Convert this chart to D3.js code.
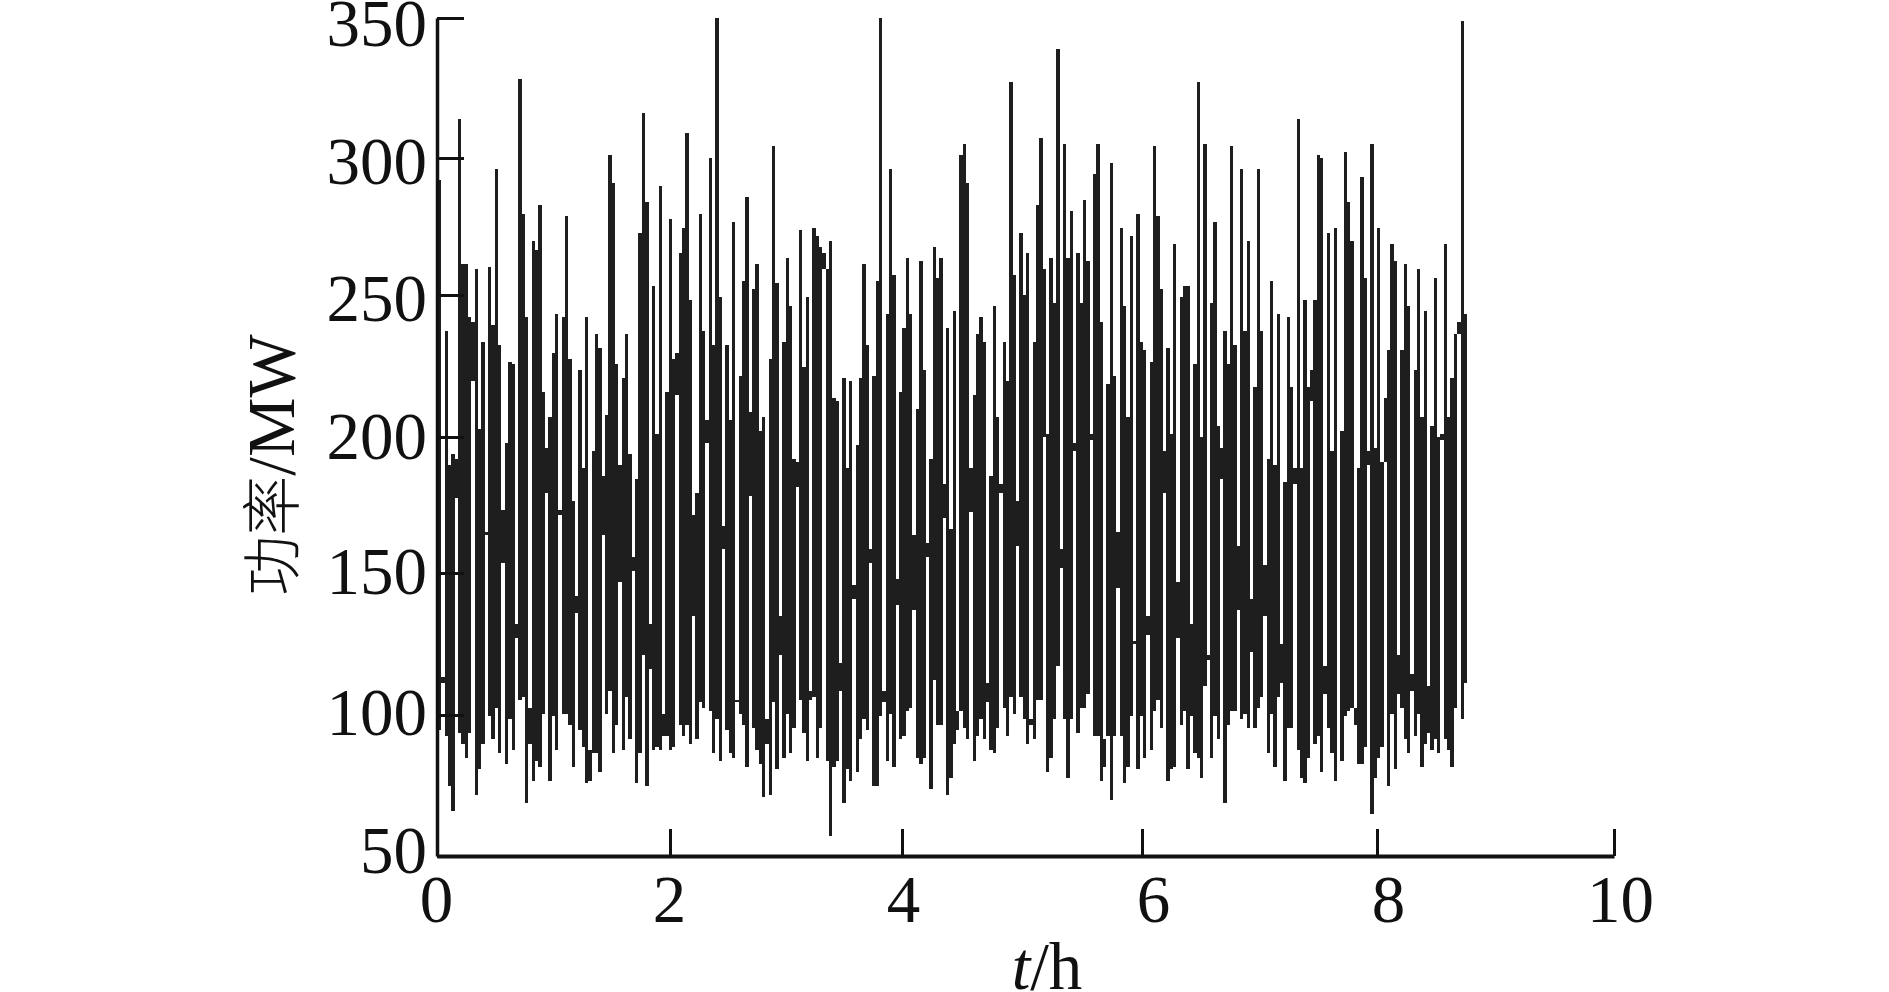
<!DOCTYPE html>
<html>
<head>
<meta charset="utf-8">
<script src="https://cdn.jsdelivr.net/npm/d3@7/dist/d3.min.js"></script>
<style>
html,body{margin:0;padding:0;background:#fff;overflow:hidden}
svg{display:block}
</style>
</head>
<body>
<svg id="chart" width="1889" height="992"></svg>
<script>
const xTicks = [0, 2, 4, 6, 8, 10];
const yTicks = [50, 100, 150, 200, 250, 300, 350];
const xTitleItalic = "t";
const xTitleRest = "/h";
const yTitleCjk = "功率";
const yTitleLatin = "/MW";

// Sampling of the power trace (hours)
const sampleStart = 0.0227;
const sampleStep = 0.02839;

// Upper end of each trace sample (MW)
const powerHigh = [
292,114,238,190,194,192,314,262,262,243,
241,260,203,234,166,261,240,296,233,174,
198,227,226,133,328,280,243,103,270,267,
283,216,196,207,230,244,174,243,279,228,
177,143,224,189,243,88,195,237,232,186,
208,301,291,226,190,221,237,194,157,185,
273,316,284,133,254,201,290,101,216,278,
228,230,266,275,309,249,172,180,280,238,
206,300,233,350,250,168,233,206,277,106,
222,256,286,209,253,262,202,207,99,228,
304,255,136,234,264,247,192,191,274,225,
250,109,275,272,268,266,260,270,214,213,
119,221,189,220,147,197,221,262,233,160,
222,256,350,109,244,296,258,149,216,239,
264,244,165,210,263,224,162,192,268,257,
264,183,239,167,245,102,301,305,291,189,
215,237,243,234,112,186,247,207,183,234,
220,327,258,177,273,251,266,99,234,283,
307,260,201,264,248,339,160,305,264,281,
198,266,248,285,263,201,294,305,241,92,
219,298,222,166,275,247,207,272,127,280,
234,231,136,227,304,279,253,195,232,201,
269,148,250,254,254,133,226,327,200,305,
122,248,277,204,196,238,226,304,233,161,
296,238,270,142,218,296,238,154,192,256,
190,244,126,184,243,218,189,314,189,249,
218,224,249,301,300,118,273,195,275,100,
202,302,284,270,103,189,293,257,195,305,
196,275,191,214,231,269,263,122,231,262,
247,115,224,260,207,245,111,204,257,200,
201,269,207,221,237,241,349,244
];

// Lower end of each trace sample (MW)
const powerLow = [
95,112,93,75,66,178,94,90,85,94,
220,72,81,90,165,100,92,103,87,155,
83,99,88,128,106,107,69,90,77,84,
82,101,180,77,100,88,172,101,101,97,
82,137,95,89,76,77,87,87,80,165,
101,109,87,97,148,88,107,92,152,76,
87,122,75,117,88,89,88,93,93,88,
89,215,97,93,97,90,136,92,105,103,
198,102,87,99,84,160,95,87,85,105,
101,97,82,179,96,88,83,71,90,72,
105,81,122,85,101,87,96,182,106,94,
84,106,107,85,96,260,84,57,82,84,
109,69,81,77,142,80,92,99,95,155,
75,75,100,105,84,101,82,140,92,93,
102,103,138,85,83,85,157,74,113,97,
97,171,72,78,90,95,102,96,92,173,
84,93,99,92,105,88,87,96,180,103,
93,107,101,161,107,99,90,97,92,106,
106,200,80,85,99,118,153,99,78,99,
195,94,103,103,108,199,93,93,77,82,
93,70,93,146,93,76,82,100,126,81,
100,85,129,88,102,106,96,180,77,81,
82,128,97,102,81,100,87,85,78,111,
120,85,100,92,185,69,97,102,102,138,
99,101,96,123,96,103,107,136,87,101,
82,107,112,77,96,96,183,88,78,76,
85,213,90,93,80,108,96,87,77,100,
84,100,102,103,97,83,83,89,190,65,
78,85,89,191,75,101,81,108,103,92,
87,109,93,101,82,90,94,88,92,87,
199,92,88,82,103,237,99,112
];

const svg = d3.select("#chart");
const ink = "#111";
const traceInk = "#1e1e1e";
const serif = "'Liberation Serif','Times New Roman',serif";
const labelSize = 67;

// Data scales
const x = d3.scaleLinear().domain([0, 10]).range([437, 1614]);
const y = d3.scaleLinear().domain([50, 350]).range([856, 18]);

// Tick and label placement follows the reference's slightly uneven spacing
const xTickPos = d3.scaleLinear().domain(xTicks).range([437, 670, 902, 1142, 1377, 1614]);
const yTickPos = d3.scaleLinear().domain(yTicks).range([856, 715, 573, 437, 295, 158, 18]);
const xLabelPos = d3.scaleLinear().domain(xTicks).range([436, 669, 903, 1153, 1388, 1620]);
const yLabelPos = d3.scaleLinear().domain(yTicks).range([851, 713, 572, 437, 299, 162, 24]);

const columnWidth = x(sampleStep) - x(0);

// Trace
svg.append("g")
  .attr("shape-rendering", "crispEdges")
  .selectAll("rect")
  .data(powerHigh.map((h, i) => ({t: sampleStart + i * sampleStep, high: h, low: powerLow[i]})))
  .join("rect")
  .attr("x", d => x(d.t) - columnWidth / 2)
  .attr("width", columnWidth)
  .attr("y", d => y(d.high))
  .attr("height", d => y(d.low) - y(d.high))
  .attr("fill", traceInk);

// Axis lines and inward ticks
const xMarks = svg.append("g")
  .attr("transform", `translate(0,${y(50)})`)
  .call(d3.axisBottom(xTickPos).tickValues(xTicks).tickSize(-27).tickSizeOuter(0).tickFormat(""));
const yMarks = svg.append("g")
  .attr("transform", `translate(${x(0)},0)`)
  .call(d3.axisLeft(yTickPos).tickValues(yTicks).tickSize(-27).tickSizeOuter(0).tickFormat(""));
xMarks.selectAll("line").attr("stroke", ink).attr("stroke-width", 3);
yMarks.selectAll("line").attr("stroke", ink).attr("stroke-width", 3);
xMarks.select(".domain").attr("stroke", ink).attr("stroke-width", 4);
yMarks.select(".domain").attr("stroke", ink).attr("stroke-width", 3.5);

// Tick labels
const xLabels = svg.append("g")
  .attr("transform", `translate(0,${y(50)})`)
  .call(d3.axisBottom(xLabelPos).tickValues(xTicks).tickSize(0).tickPadding(18).tickFormat(d3.format("d")));
const yLabels = svg.append("g")
  .attr("transform", `translate(${x(0)},0)`)
  .call(d3.axisLeft(yLabelPos).tickValues(yTicks).tickSize(0).tickPadding(10).tickFormat(d3.format("d")));
[xLabels, yLabels].forEach(g => {
  g.select(".domain").remove();
  g.selectAll("text")
    .attr("font-family", serif)
    .attr("font-size", labelSize)
    .attr("fill", ink);
});

// Axis titles
const xTitle = svg.append("text")
  .attr("x", 1047).attr("y", 989)
  .attr("text-anchor", "middle")
  .attr("font-family", serif)
  .attr("font-size", labelSize)
  .attr("fill", ink);
xTitle.append("tspan").attr("font-style", "italic").text(xTitleItalic);
xTitle.append("tspan").text(xTitleRest);

const yTitle = svg.append("text")
  .attr("transform", "translate(294,465) rotate(-90)")
  .attr("text-anchor", "middle")
  .attr("font-family", serif)
  .attr("font-size", labelSize)
  .attr("fill", ink);
yTitle.append("tspan")
  .attr("font-family", "'Noto Sans CJK SC',sans-serif")
  .attr("font-weight", 300)
  .attr("font-size", 60)
  .text(yTitleCjk);
yTitle.append("tspan").text(yTitleLatin);
</script>
</body>
</html>
